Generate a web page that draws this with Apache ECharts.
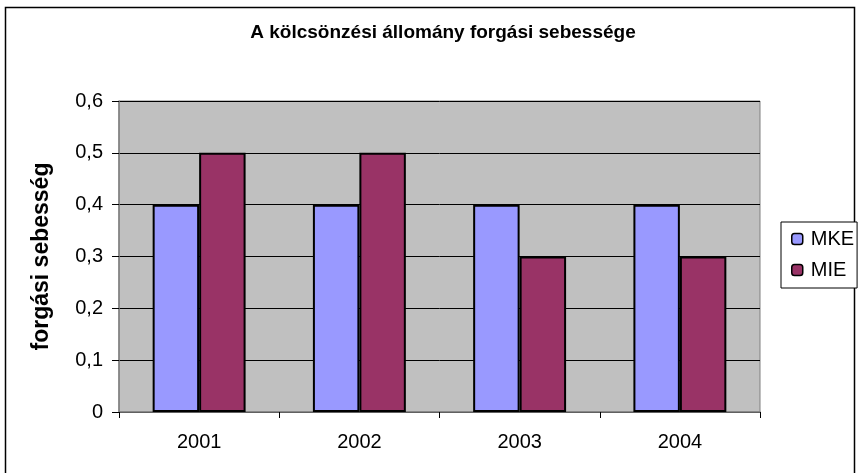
<!DOCTYPE html>
<html>
<head>
<meta charset="utf-8">
<script src="https://cdn.jsdelivr.net/npm/echarts@6/dist/echarts.min.js"></script>
<style>
  html, body { margin: 0; padding: 0; background: #fff; }
  #chart { width: 859px; height: 473px; }
</style>
</head>
<body>
<div id="chart"></div>
<script>
// data
var years = ['2001', '2002', '2003', '2004'];
var mke = [0.4, 0.4, 0.4, 0.4];
var mie = [0.5, 0.5, 0.3, 0.3];
var yTicks = [0, 0.1, 0.2, 0.3, 0.4, 0.5, 0.6];

var font = '"Liberation Sans", Arial, sans-serif';

var myChart = echarts.init(document.getElementById('chart'));

var option = {
    backgroundColor: '#fff',
    animation: false,
    graphic: [{
        type: 'rect',
        shape: { x: 5.5, y: 7.5, width: 849, height: 470 },
        style: { fill: 'none', stroke: '#000', lineWidth: 1.5 },
        silent: true
    }],
    title: {
        text: 'A kölcsönzési állomány forgási sebessége',
        left: 438,
        textAlign: 'center',
        top: 18,
        textStyle: { fontFamily: font, fontSize: 19, fontWeight: 'bold', color: '#000' }
    },
    legend: {
        orient: 'vertical',
        left: 781,
        top: 222,
        padding: [7, 3, 8, 10],
        itemGap: 11,
        itemWidth: 11,
        itemHeight: 11,
        borderColor: '#000',
        borderWidth: 1,
        backgroundColor: '#fff',
        itemStyle: { borderColor: '#000', borderWidth: 1.5 },
        textStyle: { fontFamily: font, fontSize: 20, color: '#000', padding: [0, 0, 0, 3] },
        data: ['MKE', 'MIE']
    },
    grid: {
        left: 119,
        right: 99,
        top: 101,
        bottom: 61,
        show: true,
        backgroundColor: '#C0C0C0',
        borderColor: '#808080',
        borderWidth: 1
    },
    xAxis: {
        type: 'category',
        data: years,
        axisLine: { lineStyle: { color: '#808080', width: 1.5 } },
        axisTick: { show: true, length: 6, lineStyle: { color: '#000' } },
        axisLabel: { fontFamily: font, fontSize: 20, color: '#000', margin: 20 }
    },
    yAxis: {
        type: 'value',
        min: 0,
        max: 0.6,
        interval: 0.1,
        name: 'forgási sebesség',
        nameLocation: 'middle',
        nameGap: 66,
        nameTextStyle: { fontFamily: font, fontSize: 23, fontWeight: 'bold', color: '#000' },
        axisLine: { show: true, lineStyle: { color: '#808080', width: 1.5 } },
        axisTick: { show: true, length: 7, lineStyle: { color: '#000' } },
        splitLine: { show: true, lineStyle: { color: '#000', width: 1 } },
        axisLabel: {
            fontFamily: font, fontSize: 20, color: '#000', margin: 16,
            formatter: function (v) {
                var t = yTicks.find(function (x) { return Math.abs(x - v) < 1e-9; });
                return t === 0 ? '0' : t.toFixed(1).replace('.', ',');
            }
        }
    },
    series: [
        {
            name: 'MKE',
            type: 'bar',
            data: mke,
            barGap: '0%',
            barCategoryGap: '42%',
            itemStyle: { color: '#9999FF', borderColor: '#000', borderWidth: 2 }
        },
        {
            name: 'MIE',
            type: 'bar',
            data: mie,
            itemStyle: { color: '#993366', borderColor: '#000', borderWidth: 2 }
        }
    ]
};

myChart.setOption(option, true);
</script>
</body>
</html>
